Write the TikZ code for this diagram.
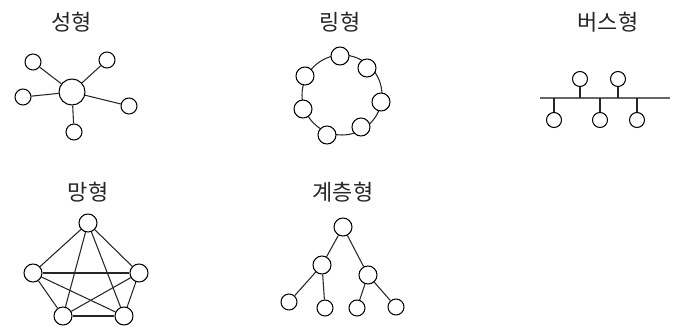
\documentclass[tikz,border=0pt]{standalone}
\usepackage{fontspec}
\setmainfont{Noto Sans CJK KR}
\usepackage{tikz}
\usetikzlibrary{positioning}

\begin{document}
\begin{tikzpicture}[
  x=0.02cm, y=-0.02cm,
  line width=0.6pt,
  title/.style={font=\fontsize{12.5}{15}\selectfont, text=black!85},
  dot/.style={circle, draw, fill=white, inner sep=0pt, minimum size=0.32cm},
  hub/.style={circle, draw, fill=white, inner sep=0pt, minimum size=0.52cm},
  wire/.style={draw, black!85}
]
  \useasboundingbox (0,0) rectangle (680,325);

  % star
  \node[title] (tstar) at (72,22) {성형};
  \node[hub] (s0) at (72,92) {};
  \foreach \n/\x/\y in {1/33/62, 2/107/60, 3/23/97, 4/129/106, 5/74/132} {
    \node[dot] (s\n) at (\x,\y) {};
    \draw[wire] (s0) -- (s\n);
  }

  % ring
  \node[title] (tring) at (340,22) {링형};
  \draw[wire] (342,95) circle (40);
  \foreach \n/\x/\y in {1/340/56, 2/367/68, 3/305/76, 4/381/102, 5/303/109, 6/361/127, 7/327/135} {
    \node[dot, minimum size=0.36cm] (r\n) at (\x,\y) {};
  }

  % bus
  \node[title] (tbus) at (608,22) {버스형};
  \coordinate (bl) at (540,98);
  \coordinate (br) at (670,98);
  \draw[black!60, line width=0.9pt] (bl) -- (br);
  \foreach \n/\x/\y in {1/580/79, 2/618/79, 3/554/120, 4/600/120, 5/637/120} {
    \node[dot, minimum size=0.3cm] (b\n) at (\x,\y) {};
    \draw[wire] (b\n) -- (b\n |- bl);
  }

  % mesh
  \node[title] (tmesh) at (88,192) {망형};
  \foreach \n/\x/\y in {1/88/223, 2/33/273, 3/139/273, 4/63/316, 5/124/316} {
    \node[dot, minimum size=0.36cm] (m\n) at (\x,\y) {};
  }
  \foreach \a/\b in {1/2, 1/3, 1/4, 1/5, 2/3, 2/4, 2/5, 3/4, 3/5, 4/5} {
    \draw[wire] (m\a) -- (m\b);
  }

  % tree
  \node[title] (ttree) at (343,192) {계층형};
  \node[dot, minimum size=0.36cm] (h0) at (343,227) {};
  \node[dot, minimum size=0.36cm] (h1) at (322,265) {};
  \node[dot, minimum size=0.36cm] (h2) at (368,275) {};
  \foreach \n/\x/\y in {3/289/302, 4/325/308, 5/357/308, 6/396/307} {
    \node[dot] (h\n) at (\x,\y) {};
  }
  \draw[wire] (h0) -- (h1);
  \draw[wire] (h0) -- (h2);
  \draw[wire] (h1) -- (h3);
  \draw[wire] (h1) -- (h4);
  \draw[wire] (h2) -- (h5);
  \draw[wire] (h2) -- (h6);
\end{tikzpicture}
\end{document}
